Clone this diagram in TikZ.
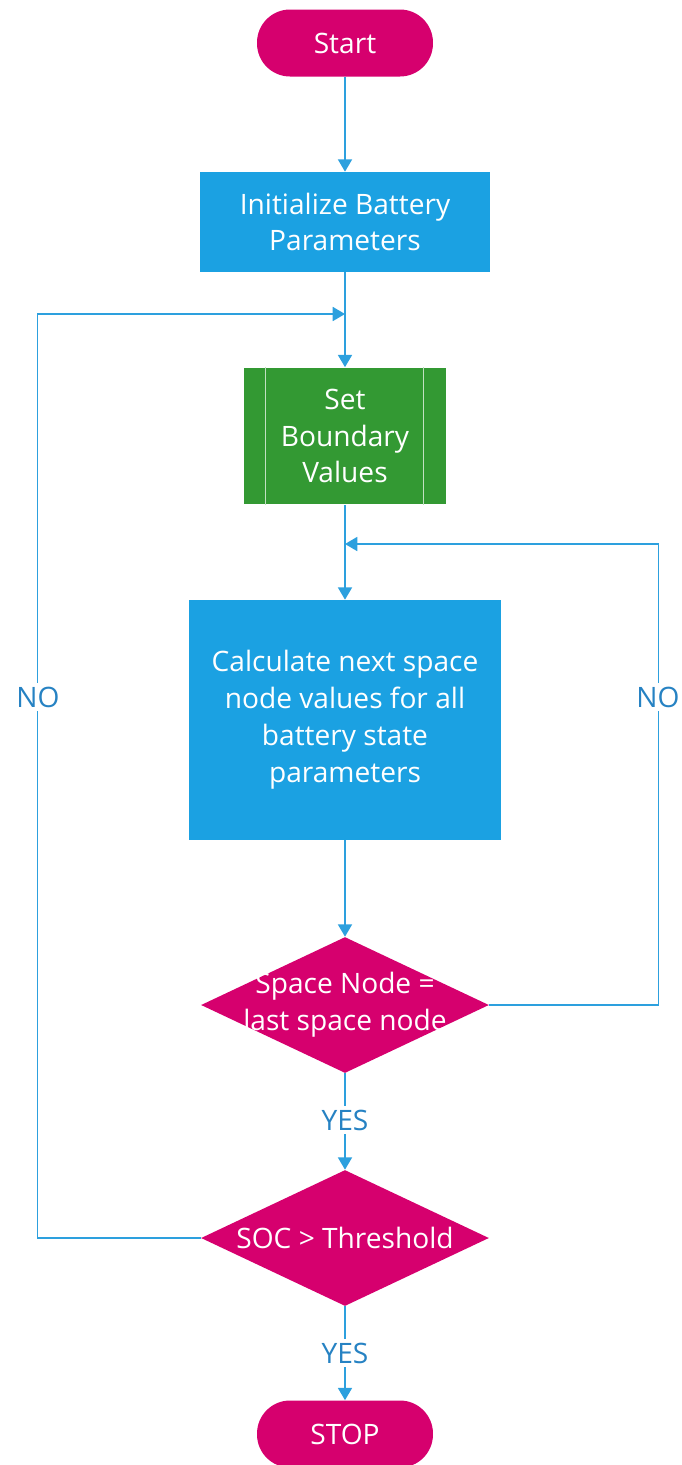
\documentclass[tikz,border=0pt]{standalone}
\usepackage{fontspec}
\setmainfont{Open Sans}
\usepackage{tikz}
\usetikzlibrary{arrows.meta,shapes.geometric,positioning}
\definecolor{flowmag}{RGB}{214,0,110}
\definecolor{flowblue}{RGB}{27,161,226}
\definecolor{flowgreen}{RGB}{51,153,51}
\definecolor{flowline}{RGB}{45,160,222}
\definecolor{flowtext}{RGB}{38,130,195}

\begin{document}
\begin{tikzpicture}[x=0.02cm,y=-0.02cm,>={Triangle[length=7pt,width=8pt]},font=\fontsize{16}{21}\selectfont,
  term/.style={fill=flowmag,text=white,rounded corners=0.66cm,minimum width=3.52cm,minimum height=1.34cm},
  proc/.style={fill=flowblue,text=white,align=center},
  dec/.style={diamond,fill=flowmag,minimum width=5.76cm,minimum height=2.72cm,inner sep=0pt},
  dectext/.style={text=white,align=center},
  conn/.style={draw=flowline,line width=0.9pt},
  lbl/.style={fill=white,text=flowtext,inner sep=2pt}]
\useasboundingbox (0,0) rectangle (682,1465);
% nodes
\node[term] (start) at (345,43) {Start};
\node[proc,minimum width=5.8cm,minimum height=2cm] (init) at (345,222) {Initialize Battery\\Parameters};
\node[proc,fill=flowgreen,minimum width=4.04cm,minimum height=2.74cm] (set) at (345,436) {Set\\Boundary\\Values};
\draw[flowgreen!30!white,line width=0.7pt] ([xshift=0.44cm]set.north west) -- ([xshift=0.44cm]set.south west);
\draw[flowgreen!30!white,line width=0.7pt] ([xshift=-0.46cm]set.north east) -- ([xshift=-0.46cm]set.south east);
\node[proc,minimum width=6.24cm,minimum height=4.8cm] (calc) at (345,720) {Calculate next space\\node values for all\\battery state\\parameters};
\node[dec,label={[dectext]center:Space Node =\\last space node}] (space) at (345,1005) {};
\node[dec,label={[dectext]center:SOC > Threshold}] (soc) at (345,1238) {};
\node[term] (stop) at (345,1434) {STOP};
% merge points
\coordinate (m1) at (345,314);
\coordinate (m2) at (345,544);
% connectors
\draw[conn,->] (start) -- (init);
\draw[conn,->] (init) -- (set);
\draw[conn,->] (set) -- (calc);
\draw[conn,->] (calc) -- (space);
\draw[conn,->] (space) -- (soc);
\draw[conn,->] (soc) -- (stop);
\draw[conn,->] (soc.west) -- ++(-163,0) |- (m1);
\draw[conn,->] (space.east) -- ++(169,0) |- (m2);
% labels
\node[lbl] (no1) at (38,697) {NO};
\node[lbl] (no2) at (658,697) {NO};
\node[lbl] (yes1) at (345,1120) {YES};
\node[lbl] (yes2) at (345,1353) {YES};
\end{tikzpicture}
\end{document}
